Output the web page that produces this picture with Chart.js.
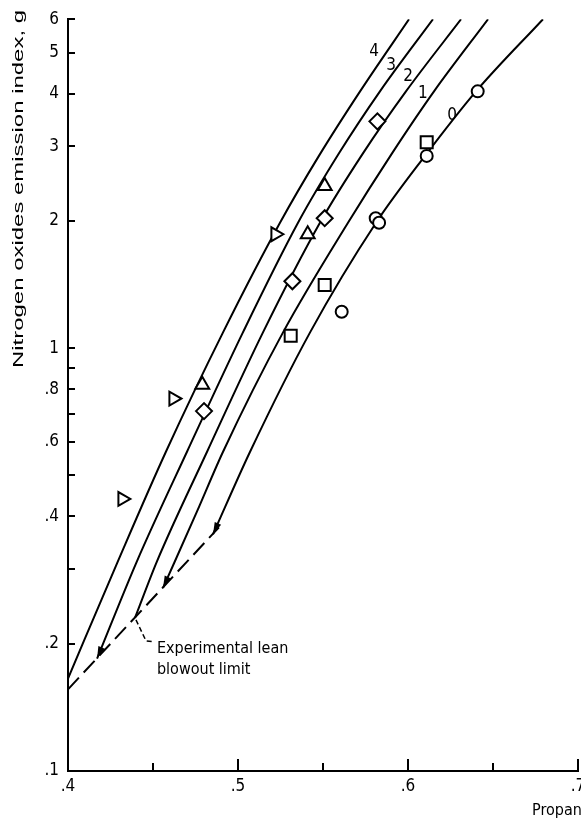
<!DOCTYPE html>
<html>
<head>
<meta charset="utf-8">
<script src="https://cdn.jsdelivr.net/npm/chart.js@4.4.0/dist/chart.umd.min.js"></script>
<style>
  html, body { margin: 0; padding: 0; background: #fff; overflow: hidden; }
</style>
</head>
<body>
<canvas id="noxChart" width="640" height="824"></canvas>
<script>
// NOx emission index vs propane equivalence ratio, curves 0..4
const curve0X = [0.4853, 0.5071, 0.5424, 0.5812, 0.6100, 0.6400, 0.6794];
const curve0Y = [0.363, 0.569, 1.09, 1.98, 2.85, 4.05, 6.0];
const curve1X = [0.4559, 0.4759, 0.4912, 0.5265, 0.5647, 0.5906, 0.6153, 0.6471];
const curve1Y = [0.271, 0.411, 0.569, 1.09, 1.98, 2.89, 4.05, 6.0];
const curve2X = [0.4394, 0.4524, 0.4818, 0.5147, 0.5482, 0.5735, 0.5988, 0.6312];
const curve2Y = [0.2303, 0.3137, 0.569, 1.09, 1.98, 2.89, 4.05, 6.0];
const curve3X = [0.4171, 0.4406, 0.4700, 0.5029, 0.5353, 0.5594, 0.5835, 0.6147];
const curve3Y = [0.1845, 0.3137, 0.569, 1.09, 1.98, 2.89, 4.05, 6.0];
const curve4X = [0.4000, 0.4294, 0.4576, 0.4912, 0.5247, 0.5476, 0.5718, 0.6006];
const curve4Y = [0.1655, 0.3137, 0.569, 1.09, 1.98, 2.85, 4.05, 6.0];

// experimental lean blowout limit
const limitX = [0.400, 0.4888];
const limitY = [0.156, 0.377];

// measured points
const circleX = [0.561, 0.581, 0.583, 0.611, 0.641];
const circleY = [1.22, 2.03, 1.98, 2.85, 4.05];
const squareX = [0.531, 0.551, 0.611];
const squareY = [1.07, 1.41, 3.07];
const diamondX = [0.480, 0.532, 0.551, 0.582];
const diamondY = [0.71, 1.44, 2.03, 3.44];
const triangleX = [0.479, 0.541, 0.551];
const triangleY = [0.82, 1.86, 2.42];
const flagX = [0.432, 0.462, 0.522];
const flagY = [0.44, 0.76, 1.86];

const curveNames = ['0', '1', '2', '3', '4'];
const curveNameX = [0.6259, 0.6088, 0.600, 0.590, 0.580];
const curveNameY = [3.55, 4.00, 4.39, 4.66, 5.02];

const xLabelValues = [0.4, 0.5, 0.6, 0.7];
const xMinorValues = [0.45, 0.55, 0.65];
const yLabelValues = [0.1, 0.2, 0.4, 0.6, 0.8, 1, 2, 3, 4, 5, 6];
const yMarkValues = [0.1, 0.2, 0.3, 0.4, 0.5, 0.6, 0.7, 0.8, 0.9, 1, 2, 3, 4, 5, 6];

const NARROW = "'Liberation Sans Narrow', 'DejaVu Sans Condensed', sans-serif";
const PLAIN = "'Liberation Sans', Arial, sans-serif";

const pts = (xs, ys) => xs.map((x, i) => ({ x: x, y: ys[i] }));
const fmt = v => (v < 1 ? '.' + String(v).split('.')[1] : String(v));

function curve(xs, ys) {
  return {
    data: pts(xs, ys),
    showLine: true,
    borderColor: '#000',
    borderWidth: 2,
    pointRadius: 0,
    cubicInterpolationMode: 'monotone',
    order: 2
  };
}

function marks(xs, ys, style, radius, rotation) {
  return {
    data: pts(xs, ys),
    showLine: false,
    pointStyle: style,
    pointRadius: radius,
    pointRotation: rotation || 0,
    pointBorderWidth: 2,
    borderColor: '#000',
    backgroundColor: '#fff',
    order: 1
  };
}

// inward tick marks, texts and arrowheads
const decor = {
  id: 'decor',
  afterDatasetsDraw(chart) {
    const ctx = chart.ctx;
    ctx.save();
    ctx.fillStyle = '#000';
    // arrowheads where curves 0, 1 and 3 stop on the limit line
    [0, 1, 3].forEach(i => {
      const d = chart.getDatasetMeta(i).data;
      const p0 = d[0], p1 = d[1];
      let dx = p1.x - p0.x, dy = p1.y - p0.y;
      const len = Math.hypot(dx, dy);
      dx /= len; dy /= len;
      const L = 12, W = 3.5;
      ctx.beginPath();
      ctx.moveTo(p0.x, p0.y);
      ctx.lineTo(p0.x + dx * L - dy * W, p0.y + dy * L + dx * W);
      ctx.lineTo(p0.x + dx * L + dy * W, p0.y + dy * L - dx * W);
      ctx.closePath();
      ctx.fill();
    });
    ctx.restore();
  },
  afterDraw(chart) {
    const ctx = chart.ctx;
    const xs = chart.scales.x, ys = chart.scales.y;
    const area = chart.chartArea;
    ctx.save();
    ctx.strokeStyle = '#000';
    ctx.lineWidth = 2;
    ctx.beginPath();
    yMarkValues.forEach(v => {
      const py = Math.round(ys.getPixelForValue(v));
      ctx.moveTo(area.left, py);
      ctx.lineTo(area.left + 7, py);
    });
    xLabelValues.forEach(v => {
      const px = Math.round(xs.getPixelForValue(v));
      ctx.moveTo(px, area.bottom);
      ctx.lineTo(px, area.bottom - 12);
    });
    xMinorValues.forEach(v => {
      const px = Math.round(xs.getPixelForValue(v));
      ctx.moveTo(px, area.bottom);
      ctx.lineTo(px, area.bottom - 8);
    });
    ctx.stroke();

    // leader for the limit line
    const j = chart.getDatasetMeta(2).data[0];
    ctx.lineWidth = 1.5;
    ctx.setLineDash([5, 3]);
    ctx.beginPath();
    ctx.moveTo(j.x + 1, j.y + 2);
    ctx.lineTo(j.x + 11, j.y + 23);
    ctx.lineTo(j.x + 19, j.y + 24);
    ctx.stroke();
    ctx.setLineDash([]);

    ctx.fillStyle = '#000';
    ctx.font = '16px ' + NARROW;
    ctx.textAlign = 'left';
    ctx.textBaseline = 'alphabetic';
    ctx.fillText('Experimental lean', j.x + 22, j.y + 35);
    ctx.fillText('blowout limit', j.x + 22, j.y + 56);

    // curve numbers
    ctx.font = '17px ' + NARROW;
    ctx.textAlign = 'center';
    ctx.textBaseline = 'middle';
    curveNames.forEach((n, i) => {
      ctx.fillText(n, xs.getPixelForValue(curveNameX[i]), ys.getPixelForValue(curveNameY[i]));
    });

    // axis titles
    ctx.font = '16px ' + NARROW;
    ctx.textAlign = 'left';
    ctx.textBaseline = 'alphabetic';
    ctx.fillText('Propane equivalence ratio', 532, 815);

    const yTitle = 'Nitrogen oxides emission index, g';
    ctx.font = '14px ' + PLAIN;
    const w = ctx.measureText(yTitle).width;
    ctx.translate(23, 368);
    ctx.rotate(-Math.PI / 2);
    ctx.scale(358 / w, 1);
    ctx.fillText(yTitle, 0, 0);
    ctx.restore();
  }
};

new Chart(document.getElementById('noxChart'), {
  type: 'scatter',
  data: {
    datasets: [
      curve(curve0X, curve0Y),
      curve(curve1X, curve1Y),
      curve(curve2X, curve2Y),
      curve(curve3X, curve3Y),
      curve(curve4X, curve4Y),
      Object.assign(curve(limitX, limitY), { borderDash: [16, 7], cubicInterpolationMode: 'default', tension: 0 }),
      marks(circleX, circleY, 'circle', 6),
      marks(squareX, squareY, 'rect', 8.5),
      marks(diamondX, diamondY, 'rectRot', 8),
      marks(triangleX, triangleY, 'triangle', 8),
      marks(flagX, flagY, 'triangle', 8, 90)
    ]
  },
  options: {
    responsive: false,
    animation: false,
    devicePixelRatio: 1,
    layout: { padding: { top: 14, right: 62, left: 0, bottom: 0 } },
    plugins: { legend: { display: false }, tooltip: { enabled: false } },
    scales: {
      x: {
        type: 'linear',
        min: 0.4,
        max: 0.7,
        afterBuildTicks: s => { s.ticks = xLabelValues.map(v => ({ value: v })); },
        afterFit: s => { s.height = 53; },
        grid: { display: false, drawTicks: false },
        border: { display: true, color: '#000', width: 2 },
        ticks: {
          color: '#000',
          font: { family: NARROW, size: 17 },
          padding: 5,
          maxRotation: 0,
          callback: v => fmt(v)
        }
      },
      y: {
        type: 'logarithmic',
        min: 0.1,
        max: 6,
        afterBuildTicks: s => { s.ticks = yLabelValues.map(v => ({ value: v })); },
        afterFit: s => { s.width = 68; },
        grid: { display: false, drawTicks: false },
        border: { display: true, color: '#000', width: 2 },
        ticks: {
          color: '#000',
          font: { family: NARROW, size: 17 },
          padding: 9,
          callback: v => fmt(v)
        }
      }
    }
  },
  plugins: [decor]
});
</script>
</body>
</html>
